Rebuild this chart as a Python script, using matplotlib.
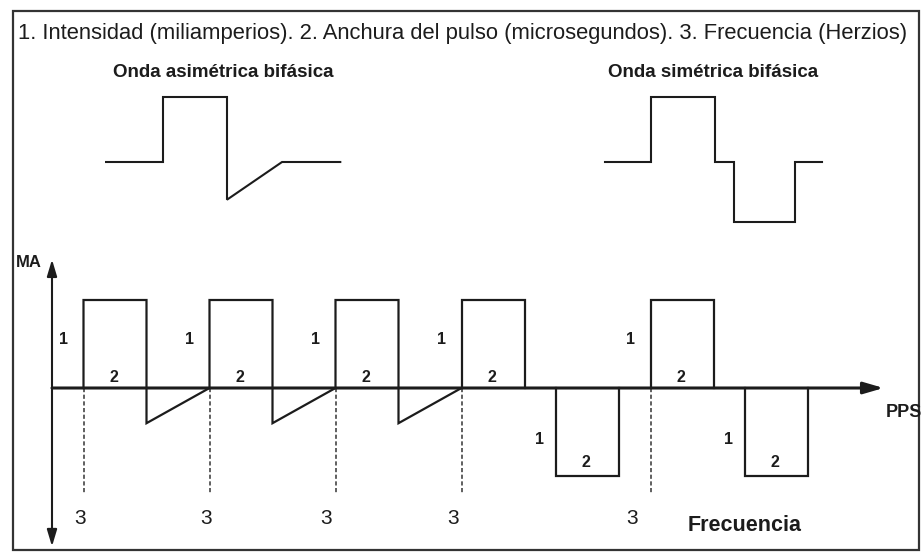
import matplotlib
matplotlib.use("Agg")
import matplotlib.pyplot as plt
from matplotlib.patches import Rectangle

plt.rcParams['font.family'] = ['Liberation Sans', 'DejaVu Sans']

INK = '#1c1c1c'

header = ("1. Intensidad (miliamperios). 2. Anchura del pulso (microsegundos). "
          "3. Frecuencia (Herzios)")

# pulse train, time in pulse widths, amplitude in units of "1"
asym_starts = [0.5, 2.5, 4.5]
sym_pos_starts = [6.5, 9.5]
sym_neg_starts = [8.0, 11.0]
pulse_width = 1.0
pulse_amp = 1.0
ramp_depth = -0.4
freq_marks = [0.5, 2.5, 4.5, 6.5, 9.5]
freq_label_x = [0.45, 2.45, 4.35, 6.37, 9.2]

# the two small waveforms above
asym_title = "Onda asimétrica bifásica"
asym_x = [-0.89, 0, 0, 1, 1, 1.86, 2.77]
asym_y = [0, 0, 1, 1, -0.58, 0, 0]
sym_title = "Onda simétrica bifásica"
sym_x = [-0.72, 0, 0, 1, 1, 1.3, 1.3, 2.25, 2.25, 2.67]
sym_y = [0, 0, 1, 1, 0, 0, -0.92, -0.92, 0, 0]

fig = plt.figure(figsize=(9.22, 5.52), dpi=100)


def full_axes(xlim, ylim):
    ax = fig.add_axes([0, 0, 1, 1])
    ax.set_xlim(*xlim)
    ax.set_ylim(*ylim)
    ax.axis('off')
    ax.patch.set_alpha(0)
    return ax


# frame + header (pixel-like coords)
bg = full_axes((0, 922), (552, 0))
bg.add_patch(Rectangle((13, 11), 906, 539, fill=False, lw=1.6, ec='#333333'))
bg.text(18, 33, header, fontsize=15.8, color=INK, va='center', ha='left')

# small waves
for xs, ys, title, x0 in [(asym_x, asym_y, asym_title, 163),
                          (sym_x, sym_y, sym_title, 651)]:
    ax = full_axes(((0 - x0) / 64, (922 - x0) / 64), ((162 - 552) / 65, 162 / 65))
    ax.plot(xs, ys, color=INK, lw=1.5, solid_joinstyle='miter')
    mid = (min(xs) + max(xs)) / 2
    ax.text(mid, 1.37, title, fontsize=13.5, fontweight='bold', color=INK,
            ha='center', va='center')

# main chart
ax = full_axes((-52 / 63, (922 - 52) / 63), (-(552 - 388) / 88, 388 / 88))

ax.annotate('', xy=(13.2, 0), xytext=(0, 0),
            arrowprops=dict(arrowstyle='-|>,head_length=1.2,head_width=0.35',
                            color=INK, lw=2.2, shrinkA=0, shrinkB=0))
ax.annotate('', xy=(0, 1.46), xytext=(0, -1.8),
            arrowprops=dict(arrowstyle='<|-|>,head_length=1.0,head_width=0.3',
                            color=INK, lw=1.5, shrinkA=0, shrinkB=0))

lbl = dict(fontsize=11.5, fontweight='bold', color=INK, ha='center', va='center')

for s in asym_starts:
    w = pulse_width
    ax.plot([s, s, s + w, s + w, s + 2 * w], [0, pulse_amp, pulse_amp, ramp_depth, 0],
            color=INK, lw=1.6, solid_joinstyle='miter')
for s in sym_pos_starts:
    w = pulse_width
    ax.plot([s, s, s + w, s + w], [0, pulse_amp, pulse_amp, 0],
            color=INK, lw=1.6, solid_joinstyle='miter')
for s in sym_neg_starts:
    w = pulse_width
    ax.plot([s, s, s + w, s + w], [0, -pulse_amp, -pulse_amp, 0],
            color=INK, lw=1.6, solid_joinstyle='miter')

for s in asym_starts + sym_pos_starts:
    ax.text(s - 0.32, 0.55 * pulse_amp, '1', **lbl)
    ax.text(s + 0.48 * pulse_width, 0.12, '2', **lbl)
for s in sym_neg_starts:
    ax.text(s - 0.26, -0.58 * pulse_amp, '1', **lbl)
    ax.text(s + 0.47 * pulse_width, -0.85 * pulse_amp, '2', **lbl)

for m, lx in zip(freq_marks, freq_label_x):
    ax.plot([m, m], [0, -1.19], color='#444444', lw=1.2, ls=(0, (2.5, 1.5)))
    ax.text(lx, -1.48, '3', fontsize=15, color=INK, ha='center', va='center')

ax.text(-0.37, 1.43, 'MA', fontsize=12, fontweight='bold', color=INK,
        ha='center', va='center')
ax.text(13.52, -0.28, 'PPS', fontsize=13, fontweight='bold', color=INK,
        ha='center', va='center')
ax.text(11.0, -1.56, 'Frecuencia', fontsize=15.5, fontweight='bold', color=INK,
        ha='center', va='center')

fig.savefig('out.png', dpi=100)
